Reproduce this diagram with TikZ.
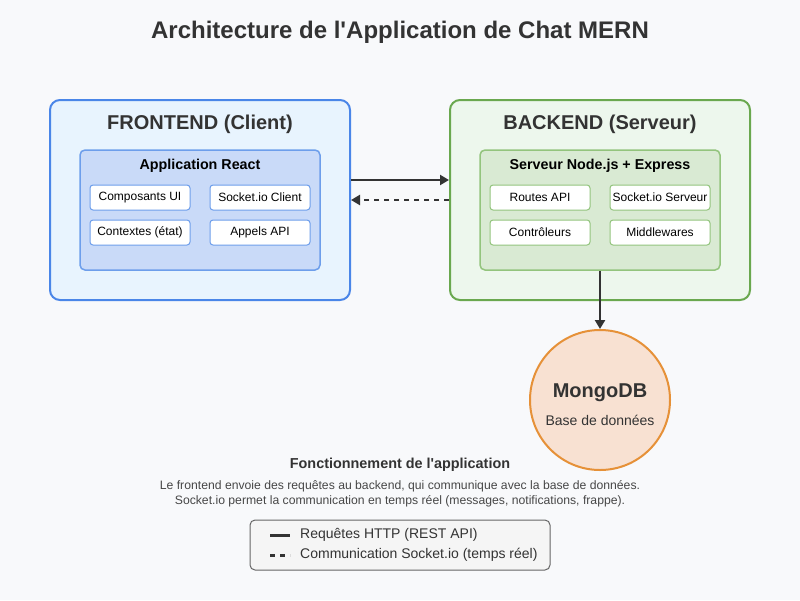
\documentclass[tikz,border=0pt]{standalone}
\usepackage{fontspec}
\setmainfont{Liberation Sans}
\usetikzlibrary{arrows.meta,positioning}
\definecolor{bgc}{HTML}{F8F9FB}
\definecolor{txt}{HTML}{333333}
\definecolor{fefill}{HTML}{E8F4FE}
\definecolor{feline}{HTML}{4A86E8}
\definecolor{feinfill}{HTML}{C9DAF8}
\definecolor{feinline}{HTML}{6D9EEB}
\definecolor{befill}{HTML}{EDF7ED}
\definecolor{beline}{HTML}{6AA84F}
\definecolor{beinfill}{HTML}{D9EAD3}
\definecolor{beinline}{HTML}{93C47D}
\definecolor{dbfill}{HTML}{F8E1D2}
\definecolor{dbline}{HTML}{E69138}
\definecolor{lgfill}{HTML}{F5F5F5}
\definecolor{lgline}{HTML}{666666}
\tikzset{
  fs/.style={font=\fontsize{#1}{#1}\selectfont},
  bfs/.style={font=\fontsize{#1}{#1}\selectfont\bfseries},
  outerbox/.style={draw, line width=2pt, rounded corners=10pt, minimum width=300pt, minimum height=200pt, inner sep=0pt},
  innerbox/.style={draw, line width=1.5pt, rounded corners=5pt, minimum width=240pt, minimum height=120pt, inner sep=0pt},
  subbox/.style={draw, fill=white, line width=1pt, rounded corners=3pt, minimum width=100pt, minimum height=25pt, inner sep=0pt, text=black, fs=12},
  conn/.style={draw=txt, line width=2.5pt, -{Triangle[length=9pt,width=10pt]}},
  dconn/.style={conn, dash pattern=on 5pt off 5pt},
  lbl/.style={text=txt, inner sep=0pt},
}
\begin{document}
\begin{tikzpicture}[x=1pt,y=-1pt]
\fill[bgc] (0,0) rectangle (800,600);
\useasboundingbox (0,0) rectangle (800,600);
\node[lbl, bfs=24] (title) at (400,32) {Architecture de l\textquotesingle Application de Chat MERN};

% Frontend
\node[outerbox, fill=fefill, draw=feline] (fe) at (200,200) {};
\node[lbl, bfs=20] (fet) at (200,124) {FRONTEND (Client)};
\node[innerbox, fill=feinfill, draw=feinline] (fein) at (200,210) {};
\node[lbl, bfs=14.3, text=black] (feint) at (200,166) {Application React};
\node[subbox, draw=feinline] (f1) at (140,197.5) {Composants UI};
\node[subbox, draw=feinline] (f2) at (260,197.5) {Socket.io Client};
\node[subbox, draw=feinline] (f3) at (140,232.5) {Contextes (état)};
\node[subbox, draw=feinline] (f4) at (260,232.5) {Appels API};

% Backend
\node[outerbox, fill=befill, draw=beline] (be) at (600,200) {};
\node[lbl, bfs=20] (bet) at (600,124) {BACKEND (Serveur)};
\node[innerbox, fill=beinfill, draw=beinline] (bein) at (600,210) {};
\node[lbl, bfs=14.3, text=black] (beint) at (600,166) {Serveur Node.js + Express};
\node[subbox, draw=beinline] (b1) at (540,197.5) {Routes API};
\node[subbox, draw=beinline] (b2) at (660,197.5) {Socket.io Serveur};
\node[subbox, draw=beinline] (b3) at (540,232.5) {Contrôleurs};
\node[subbox, draw=beinline] (b4) at (660,232.5) {Middlewares};

% MongoDB
\node[circle, draw=dbline, fill=dbfill, line width=2pt, minimum size=140pt, inner sep=0pt] (db) at (600,400) {};
\node[lbl, bfs=20] (dbt) at (600,393) {MongoDB};
\node[lbl, fs=14] (dbs) at (600,420) {Base de données};

% Connectors
\draw[conn] ([yshift=20pt]fe.east) -- ([yshift=20pt]be.west);
\draw[dconn] (be.west) -- (fe.east);
\draw[conn] (bein.south) -- (db.north);

% Description
\node[lbl, bfs=14.4] (desc) at (400,465) {Fonctionnement de l\textquotesingle application};
\node[lbl, fs=12.2, text=txt!90] (d1) at (400,486) {Le frontend envoie des requêtes au backend, qui communique avec la base de données.};
\node[lbl, fs=12.2, text=txt!90] (d2) at (400,501) {Socket.io permet la communication en temps réel (messages, notifications, frappe).};

% Legend
\node[draw=lgline, fill=lgfill, line width=1pt, rounded corners=5pt, minimum width=300pt, minimum height=50pt, inner sep=0pt] (leg) at (400,545) {};
\coordinate (l1a) at (270,535); \coordinate (l1b) at (290,535);
\coordinate (l2a) at (270,555); \coordinate (l2b) at (290,555);
\draw[txt, line width=3pt] (l1a) -- (l1b);
\draw[txt, line width=3pt, dash pattern=on 5pt off 5pt] (l2a) -- (l2b);
\node[lbl, fs=14, anchor=west] (lt1) at (300,535) {Requêtes HTTP (REST API)};
\node[lbl, fs=14, anchor=west] (lt2) at (300,555) {Communication Socket.io (temps réel)};
\end{tikzpicture}
\end{document}
